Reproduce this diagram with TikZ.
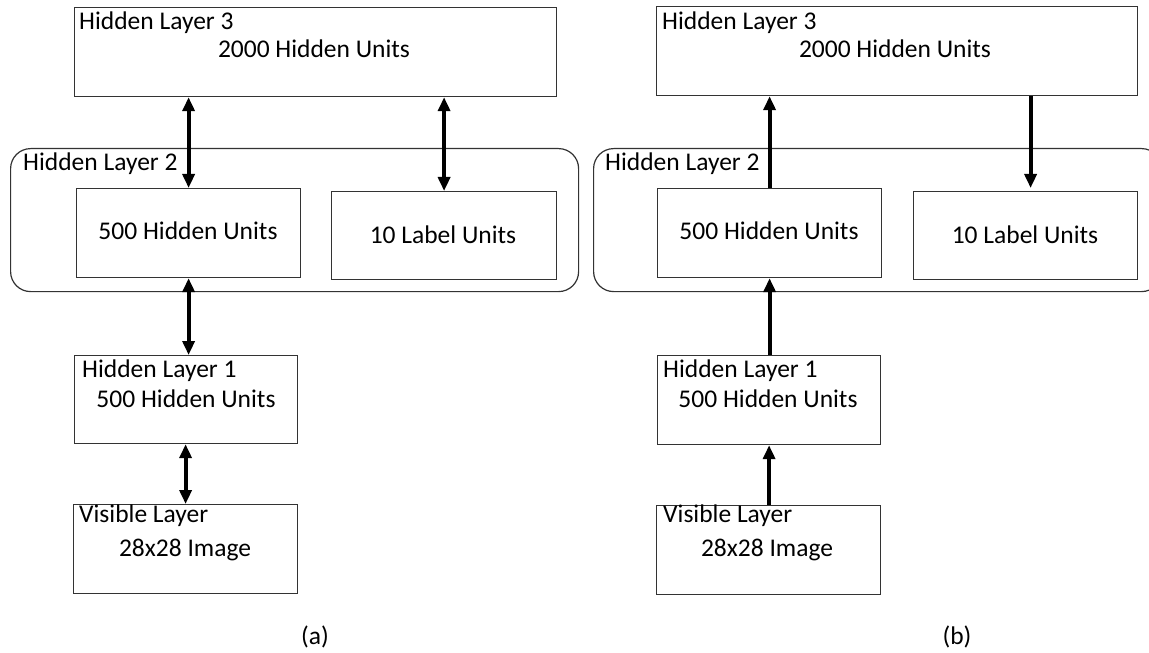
\documentclass[tikz,border=0pt]{standalone}
\usepackage{fontspec}
\setmainfont{Carlito}
\usetikzlibrary{arrows.meta}
\definecolor{boxgray}{HTML}{333333}

\tikzset{
  layerbox/.style={draw=boxgray, line width=1.2bp, inner sep=0pt, anchor=north west},
  groupbox/.style={layerbox, rounded corners=20bp},
  lbl/.style={anchor=base west, inner sep=0pt},
  ctr/.style={anchor=base, inner sep=0pt},
  link/.style={line width=3.8bp, draw=black},
  uparrow/.style={link, -{Triangle[width=12bp,length=14bp]}},
  bothways/.style={link, {Triangle[width=12bp,length=14bp]}-{Triangle[width=12bp,length=14bp]}},
}

\begin{document}
\begin{tikzpicture}[x=1bp, y=-1bp, font=\fontsize{25.5bp}{30bp}\selectfont]
\clip (0,0) rectangle (1149,653);
\fill[white] (0,0) rectangle (1149,653);

% ---------------- (a): undirected connections ----------------
\node[layerbox, minimum width=482bp, minimum height=89bp] (a3) at (74,7) {};
\node[groupbox, minimum width=568bp, minimum height=143bp] (a2) at (10,148) {};
\node[layerbox, minimum width=224bp, minimum height=89bp] (a2h) at (76,188) {};
\node[layerbox, minimum width=225bp, minimum height=88bp] (a2l) at (331,191) {};
\node[layerbox, minimum width=223bp, minimum height=88bp] (a1) at (74,355) {};
\node[layerbox, minimum width=224bp, minimum height=89bp] (av) at (73,504) {};

\node[lbl] (a3t) at (79,30) {Hidden Layer 3};
\node[ctr] (a3u) at (314,58) {2000 Hidden Units};
\node[lbl] (a2t) at (23,171) {Hidden Layer 2};
\node[ctr] (a2hu) at (188,239) {500 Hidden Units};
\node[ctr] (a2lu) at (443,243) {10 Label Units};
\node[lbl] (a1t) at (82,377) {Hidden Layer 1};
\node[ctr] (a1u) at (186,407) {500 Hidden Units};
\node[lbl] (avt) at (79,522) {Visible Layer};
\node[ctr] (avu) at (185,556) {28x28 Image};
\node[ctr] (cap-a) at (315,644) {(a)};

\draw[bothways] (a3.south -| a2h.north) -- (a2h.north);
\draw[bothways] (a3.south -| a2l.north) -- (a2l.north);
\draw[bothways] (a2h.south) -- (a1.north -| a2h.south);
\draw[bothways] (a1.south -| av.north) -- (av.north);

% ---------------- (b): directed connections ----------------
\node[layerbox, minimum width=481bp, minimum height=89bp] (b3) at (656,6) {};
\node[groupbox, minimum width=568bp, minimum height=143bp] (b2) at (593,148) {};
\node[layerbox, minimum width=224bp, minimum height=89bp] (b2h) at (657,188) {};
\node[layerbox, minimum width=224bp, minimum height=88bp] (b2l) at (913,191) {};
\node[layerbox, minimum width=223bp, minimum height=89bp] (b1) at (657,355) {};
\node[layerbox, minimum width=224bp, minimum height=89bp] (bv) at (656,505) {};

\node[lbl] (b3t) at (662,30) {Hidden Layer 3};
\node[ctr] (b3u) at (895,58) {2000 Hidden Units};
\node[lbl] (b2t) at (605,171) {Hidden Layer 2};
\node[ctr] (b2hu) at (769,239) {500 Hidden Units};
\node[ctr] (b2lu) at (1025,243) {10 Label Units};
\node[lbl] (b1t) at (663,377) {Hidden Layer 1};
\node[ctr] (b1u) at (768,407) {500 Hidden Units};
\node[lbl] (bvt) at (663,522) {Visible Layer};
\node[ctr] (bvu) at (767,556) {28x28 Image};
\node[ctr] (cap-b) at (957,644) {(b)};

\coordinate (bdown) at ([xshift=5bp, yshift=3bp]b2l.north);
\draw[uparrow] (b2h.north) -- (b3.south -| b2h.north);
\draw[uparrow] (b3.south -| bdown) -- (bdown);
\draw[uparrow] (b1.north -| b2h.south) -- (b2h.south);
\draw[uparrow] (bv.north -| b1.south) -- (b1.south);
\end{tikzpicture}
\end{document}
